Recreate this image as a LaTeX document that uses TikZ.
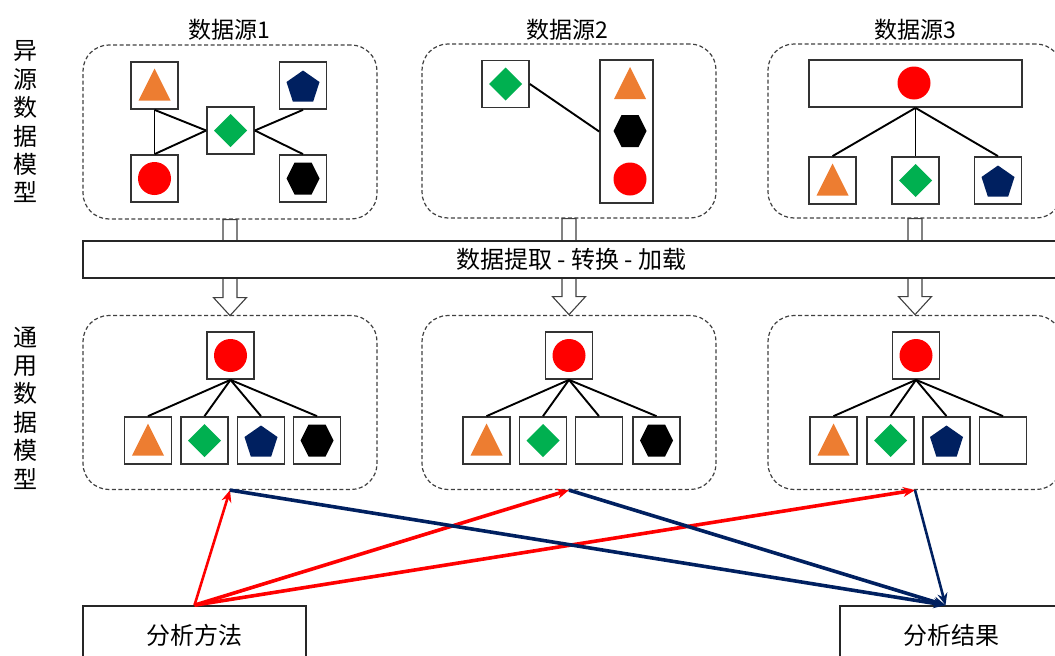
\documentclass[tikz,border=0pt]{standalone}
\usepackage{fontspec}
\setmainfont{Noto Sans CJK SC}
\usetikzlibrary{arrows.meta,calc}
\definecolor{cOr}{HTML}{ED7D31}
\definecolor{cGr}{HTML}{00B050}
\definecolor{cNv}{HTML}{002060}
\definecolor{cRd}{HTML}{FF0000}
\definecolor{cDash}{HTML}{404040}
\begin{document}
\begin{tikzpicture}[x=1pt,y=-1pt,
  txt/.style={font=\fontsize{23}{27}\selectfont, inner sep=0pt},
  vlab/.style={font=\fontsize{24}{28.4}\selectfont, align=center, inner sep=0pt},
  dbox/.style={draw=cDash, dash pattern=on 4pt off 2.5pt, line width=1.2pt, rounded corners=26pt, minimum width=294pt, minimum height=174pt, inner sep=0pt},
  sq/.style={draw=black!80, line width=1.7pt, fill=white, minimum size=47pt, inner sep=0pt},
  conn/.style={line width=1.9pt, black},
  band/.style={draw=black!85, line width=1.8pt, fill=white, minimum width=977pt, minimum height=37pt, inner sep=0pt, font=\fontsize{24}{28}\selectfont},
  outbox/.style={draw=black!85, line width=1.7pt, fill=white, minimum width=223pt, minimum height=58pt, inner sep=0pt, font=\fontsize{24}{28}\selectfont},
  blockarr/.style={draw=black!75, line width=1.1pt, fill=white},
  redarr/.style={cRd, line width=3.6pt, -{Stealth[length=12pt,width=10pt]}},
  navarr/.style={cNv, line width=3.6pt, -{Stealth[length=12pt,width=10pt]}},
  shTri/.pic={\fill[cOr] (-16,15) -- (16,15) -- (0,-17) -- cycle;},
  shDia/.pic={\fill[cGr] (0,-16.5) -- (16.5,0) -- (0,16.5) -- (-16.5,0) -- cycle;},
  shPent/.pic={\fill[cNv] (0,-16) -- (16.5,-4.5) -- (10.2,15) -- (-10.2,15) -- (-16.5,-4.5) -- cycle;},
  shHex/.pic={\fill[black] (-16.5,0) -- (-8.5,-16) -- (8.5,-16) -- (16.5,0) -- (8.5,16) -- (-8.5,16) -- cycle;},
  shCirc/.pic={\fill[cRd] (0,0) circle[radius=16.5pt];},
  blk/.pic={\draw[blockarr] (-7,0) -- (-7,78) -- (-16.5,78) -- (0,96) -- (16.5,78) -- (7,78) -- (7,0) -- cycle;}
]
\useasboundingbox (0,0) rectangle (1055,656);
\clip (0,0) rectangle (1055,656);

% side labels
\node[vlab] (lab1) at (25,122) {异\\源\\数\\据\\模\\型};
\node[vlab] (lab2) at (25,408) {通\\用\\数\\据\\模\\型};

% titles
\node[txt] (t1) at (229,30) {数据源1};
\node[txt] (t2) at (567,30) {数据源2};
\node[txt] (t3) at (915,30) {数据源3};

% top dashed boxes
\node[dbox] (s1) at (230,132) {};
\node[dbox] (s2) at (569,131) {};
\node[dbox] (s3) at (915,131) {};

% block arrows (behind band)
\pic at (s1.south) {blk};
\pic at (s2.south) {blk};
\pic at (s3.south) {blk};

% ETL band
\node[band] (etl) at (571.5,259.5) {数据提取 - 转换 - 加载};

% ---------- source 1 ----------
\node[sq] (a1) at (154.5,85.5) {};
\node[sq] (b1) at (303,85.5) {};
\node[sq] (d1) at (230.5,130.5) {};
\node[sq] (c1) at (154.5,178.5) {};
\node[sq] (h1) at (303,178.5) {};
\pic at (a1) {shTri};
\pic at ($(b1)+(0,1)$) {shPent};
\pic at (d1) {shDia};
\pic at (c1) {shCirc};
\pic at (h1) {shHex};
\draw[conn] (a1.south) -- (c1.north);
\draw[conn] (a1.south) -- (d1.west);
\draw[conn] (c1.north) -- (d1.west);
\draw[conn] (d1.east) -- (b1.south);
\draw[conn] (d1.east) -- (h1.north);

% ---------- source 2 ----------
\node[sq] (d2) at (505.5,84) {};
\pic at (d2) {shDia};
\node[draw=black!80, line width=1.7pt, minimum width=53pt, minimum height=143pt, inner sep=0pt] (col2) at (626.5,131.5) {};
\pic at (630,84) {shTri};
\pic at (630,131) {shHex};
\pic at (630,179) {shCirc};
\draw[conn] (d2.east) -- (col2.west);

% ---------- source 3 ----------
\node[draw=black!80, line width=1.7pt, minimum width=213pt, minimum height=47pt, inner sep=0pt] (row3) at (915.5,83.5) {};
\pic at (914,83) {shCirc};
\node[sq] (x3) at (832.5,180.5) {};
\node[sq] (y3) at (915.5,180.5) {};
\node[sq] (z3) at (998,180.5) {};
\pic at (x3) {shTri};
\pic at (y3) {shDia};
\pic at ($(z3)+(0,1)$) {shPent};
\draw[conn] (row3.south) -- (x3.north);
\draw[conn] (row3.south) -- (y3.north);
\draw[conn] (row3.south) -- (z3.north);

% bottom dashed boxes
\node[dbox] (g1) at (230,402.5) {};
\node[dbox] (g2) at (569,402.5) {};
\node[dbox] (g3) at (915,402.5) {};

% ---------- general model 1 ----------
\node[sq] (r1) at (230.5,355.5) {};
\pic at (r1) {shCirc};
\node[sq] (p1) at (148,440.5) {};
\node[sq] (q1) at (204.5,440.5) {};
\node[sq] (u1) at (261,440.5) {};
\node[sq] (v1) at (317,440.5) {};
\pic at (p1) {shTri};
\pic at (q1) {shDia};
\pic at ($(u1)+(0,1)$) {shPent};
\pic at (v1) {shHex};
\foreach \n in {p1,q1,u1,v1} \draw[conn] (r1.south) -- (\n.north);

% ---------- general model 2 ----------
\node[sq] (r2) at (569,355.5) {};
\pic at (r2) {shCirc};
\node[sq] (p2) at (486.5,440.5) {};
\node[sq] (q2) at (543,440.5) {};
\node[sq] (u2) at (599,440.5) {};
\node[sq] (v2) at (656.5,440.5) {};
\pic at (p2) {shTri};
\pic at (q2) {shDia};
\pic at (v2) {shHex};
\foreach \n in {p2,q2,u2,v2} \draw[conn] (r2.south) -- (\n.north);

% ---------- general model 3 ----------
\node[sq] (r3) at (916,355.5) {};
\pic at (r3) {shCirc};
\node[sq] (p3) at (833.5,440.5) {};
\node[sq] (q3) at (890.5,440.5) {};
\node[sq] (u3) at (946.5,440.5) {};
\node[sq] (v3) at (1003,440.5) {};
\pic at (p3) {shTri};
\pic at (q3) {shDia};
\pic at ($(u3)+(0,1)$) {shPent};
\foreach \n in {p3,q3,u3,v3} \draw[conn] (r3.south) -- (\n.north);

% bottom boxes
\node[outbox] (m) at (194.5,635) {分析方法};
\node[outbox] (res) at (951.5,635) {分析结果};
\coordinate (rin) at ($(res.north)+(-6,0)$);

% arrows
\draw[redarr, line width=2.6pt] (m.north) -- (g1.south);
\draw[redarr] (m.north) -- (g2.south);
\draw[redarr] (m.north) -- (g3.south);
\draw[navarr] (g1.south) -- (rin);
\draw[navarr] (g2.south) -- (rin);
\draw[navarr, line width=2.6pt] (g3.south) -- (rin);
\end{tikzpicture}
\end{document}
